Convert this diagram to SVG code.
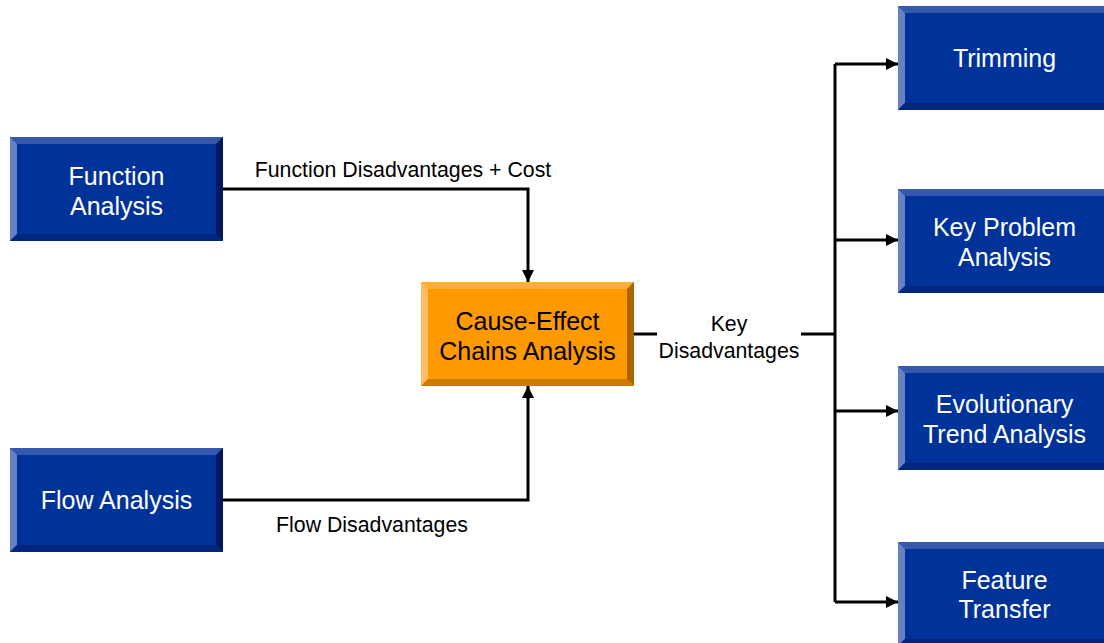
<svg xmlns="http://www.w3.org/2000/svg" xmlns:xlink="http://www.w3.org/1999/xlink" width="1104" height="643" viewBox="0 0 1104 643">
<style>
.bt{font-family:"Liberation Sans",Arial,sans-serif;font-size:25px;fill:#ffffff;text-anchor:middle}
.ot{font-family:"Liberation Sans",Arial,sans-serif;font-size:25px;fill:#000000;text-anchor:middle}
.lb{font-family:"Liberation Sans",Arial,sans-serif;font-size:21.3px;fill:#000000;text-anchor:middle}
.cn{fill:none;stroke:#000000;stroke-width:3}
</style>
<defs>
<marker id="ah" viewBox="0 0 12 12" refX="12" refY="6" markerWidth="12" markerHeight="12" markerUnits="userSpaceOnUse" orient="auto">
<path d="M0,0 L12,6 L0,12 Z" fill="#000000"/>
</marker>
<g id="bluebox">
<rect x="0" y="0" width="213" height="104" fill="#003399"/>
<polygon points="0,0 213,0 206,7 7,7" fill="#3358AD"/>
<polygon points="0,0 7,7 7,97 0,104" fill="#6680C2"/>
<polygon points="213,0 213,104 206,97 206,7" fill="#001A5C"/>
<polygon points="0,104 7,97 206,97 213,104" fill="#002680"/>
</g>
<g id="orangebox">
<rect x="0" y="0" width="213" height="104" fill="#FF9900"/>
<polygon points="0,0 213,0 206,7 7,7" fill="#FFAD33"/>
<polygon points="0,0 7,7 7,97 0,104" fill="#FFBB66"/>
<polygon points="213,0 213,104 206,97 206,7" fill="#A86500"/>
<polygon points="0,104 7,97 206,97 213,104" fill="#CC7A00"/>
</g>
</defs>
<rect width="1104" height="643" fill="#ffffff"/>
<g id="connectors">
<path class="cn" d="M223,189 H528 V282" marker-end="url(#ah)"/>
<path class="cn" d="M223,500 H528 V386" marker-end="url(#ah)"/>
<path class="cn" d="M634,334 H657"/>
<path class="cn" d="M801,334 H835"/>
<path class="cn" d="M835,64 V602"/>
<path class="cn" d="M835,64 H898" marker-end="url(#ah)"/>
<path class="cn" d="M835,240 H898" marker-end="url(#ah)"/>
<path class="cn" d="M835,411 H898" marker-end="url(#ah)"/>
<path class="cn" d="M835,602 H898" marker-end="url(#ah)"/>
<text class="lb" x="403" y="176.5">Function Disadvantages + Cost</text>
<text class="lb" x="372" y="531.5">Flow Disadvantages</text>
<text class="lb" x="729" y="330.5">Key</text>
<text class="lb" x="729" y="357.5">Disadvantages</text>
</g>
<g id="function-analysis" transform="translate(10,137)">
<use xlink:href="#bluebox"/>
<text class="bt" x="106.5" y="47.5">Function</text>
<text class="bt" x="106.5" y="77.5">Analysis</text>
</g>
<g id="flow-analysis" transform="translate(10,448)">
<use xlink:href="#bluebox"/>
<text class="bt" x="106.5" y="61">Flow Analysis</text>
</g>
<g id="cause-effect" transform="translate(421,282)">
<use xlink:href="#orangebox"/>
<text class="ot" x="106.5" y="47.5">Cause-Effect</text>
<text class="ot" x="106.5" y="77.5">Chains Analysis</text>
</g>
<g id="trimming" transform="translate(898,6)">
<use xlink:href="#bluebox"/>
<text class="bt" x="106.5" y="61">Trimming</text>
</g>
<g id="key-problem" transform="translate(898,189)">
<use xlink:href="#bluebox"/>
<text class="bt" x="106.5" y="46.5">Key Problem</text>
<text class="bt" x="106.5" y="76.5">Analysis</text>
</g>
<g id="evolutionary" transform="translate(898,366)">
<use xlink:href="#bluebox"/>
<text class="bt" x="106.5" y="46.5">Evolutionary</text>
<text class="bt" x="106.5" y="76.5">Trend Analysis</text>
</g>
<g id="feature-transfer" transform="translate(898,542)">
<use xlink:href="#bluebox"/>
<text class="bt" x="106.5" y="46.5">Feature</text>
<text class="bt" x="106.5" y="75.5">Transfer</text>
</g>
</svg>
